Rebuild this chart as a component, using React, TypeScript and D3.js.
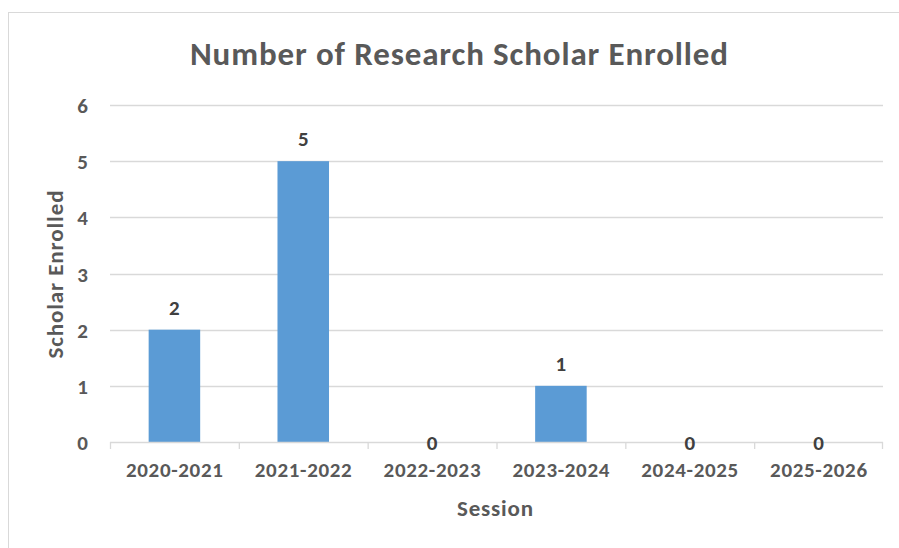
import React from "react";
import * as d3 from "d3";

const categories = ["2020-2021", "2021-2022", "2022-2023", "2023-2024", "2024-2025", "2025-2026"];
const values = [2, 5, 0, 1, 0, 0];
const yTicks = [0, 1, 2, 3, 4, 5, 6];
const title = "Number of Research Scholar Enrolled";
const xTitle = "Session";
const yTitle = "Scholar Enrolled";

const W = 899;
const H = 548;
const FONT = "Carlito, Calibri, Lato, 'Open Sans', sans-serif";
const TEXT = "#595959";

export default function App() {
  const left = 110, right = 883, top = 105, bottom = 442;
  const x = d3.scaleBand<string>().domain(categories).range([left, right]).paddingInner(0.6).paddingOuter(0.3);
  const xb = d3.scaleBand<string>().domain(categories).range([left, right]);
  const y = d3.scaleLinear().domain([0, 6]).range([bottom, top]);

  return (
    <svg width={W} height={H} style={{ position: "absolute", left: 0, top: 0, background: "#fff" }} fontFamily={FONT}>
      <rect x={8.5} y={12.5} width={W + 20} height={H + 20} fill="#fff" stroke="#D9D9D9" />
      <text x={459} y={65} textAnchor="middle" fontSize={33} fontWeight="bold" fill={TEXT} textLength={538} lengthAdjust="spacing">{title}</text>
      {yTicks.map((t) => (
        <g key={t}>
          {t > 0 && <line x1={left} x2={right} y1={Math.round(y(t)) + 0.5} y2={Math.round(y(t)) + 0.5} stroke="#D9D9D9" strokeWidth={1.3} />}
          <text x={88} y={y(t) + 8} textAnchor="end" fontSize={21} fontWeight="bold" fill={TEXT}>{t}</text>
        </g>
      ))}
      {categories.map((c, i) => (
        <rect key={c} x={x(c)} y={y(values[i])} width={x.bandwidth()} height={y(0) - y(values[i])} fill="#5B9BD5" />
      ))}
      <line x1={left} x2={right} y1={bottom + 0.5} y2={bottom + 0.5} stroke="#D9D9D9" strokeWidth={1.3} />
      {categories.map((c) => (
        <line key={"t" + c} x1={(xb(c) as number) + 0.5} x2={(xb(c) as number) + 0.5} y1={bottom} y2={bottom + 7} stroke="#D9D9D9" strokeWidth={1.3} />
      ))}
      <line x1={right - 0.5} x2={right - 0.5} y1={bottom} y2={bottom + 7} stroke="#D9D9D9" strokeWidth={1.3} />
      {categories.map((c, i) => (
        <text key={"v" + c} x={(x(c) as number) + x.bandwidth() / 2} y={values[i] === 0 ? y(0) + 8 : y(values[i]) - 15} textAnchor="middle" fontSize={21} fontWeight="bold" fill="#404040">{values[i]}</text>
      ))}
      {categories.map((c) => (
        <text key={"l" + c} x={(xb(c) as number) + xb.bandwidth() / 2} y={477} textAnchor="middle" fontSize={21} fontWeight="bold" fill={TEXT} textLength={97} lengthAdjust="spacing">{c}</text>
      ))}
      <text x={495} y={516} textAnchor="middle" fontSize={23} fontWeight="bold" fill={TEXT} textLength={76} lengthAdjust="spacing">{xTitle}</text>
      <text transform={`translate(63,${(top + bottom) / 2 + 1}) rotate(-90)`} textAnchor="middle" fontSize={23} fontWeight="bold" fill={TEXT} textLength={168} lengthAdjust="spacing">{yTitle}</text>
    </svg>
  );
}
